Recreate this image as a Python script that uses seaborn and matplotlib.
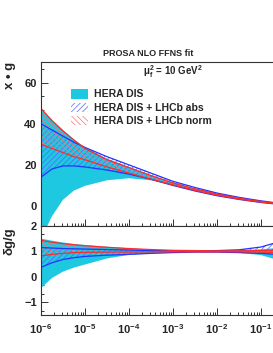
import numpy as np
import pandas as pd
import matplotlib
matplotlib.use('Agg')
import matplotlib.pyplot as plt
import seaborn as sns
from matplotlib.patches import Patch
from matplotlib.ticker import AutoMinorLocator, LogLocator, NullFormatter, FixedLocator

# ---------------- data ----------------
log_x = [-6, -5.75, -5.5, -5.25, -5, -4.5, -4, -3.5, -3, -2.5, -2, -1.5, -1, -0.5, 0]

# x*g, top panel
dis_up   = [47.5, 42.0, 37.0, 32.5, 28.5, 23.0, 19.0, 15.0, 11.5, 8.5, 6.0, 4.0, 2.4, 1.0, 0.2]
dis_lo   = [-16.0, -5.0, 3.0, 7.5, 9.8, 12.5, 13.5, 12.5, 10.0, 7.5, 5.2, 3.3, 1.8, 0.6, 0.0]
abs_up   = [40.0, 37.0, 34.0, 31.0, 28.5, 24.0, 20.0, 16.0, 12.0, 9.0, 6.3, 4.2, 2.5, 1.1, 0.3]
abs_lo   = [14.0, 18.0, 19.5, 19.5, 19.0, 17.5, 15.5, 13.0, 10.0, 7.3, 5.0, 3.2, 1.7, 0.6, 0.1]
norm_up  = [47.5, 41.5, 36.5, 32.0, 28.0, 22.5, 18.7, 14.8, 11.2, 8.3, 5.8, 3.8, 2.2, 0.9, 0.2]
norm_lo  = [30.0, 28.0, 26.0, 24.0, 22.5, 19.0, 16.0, 13.0, 10.3, 7.6, 5.3, 3.4, 1.9, 0.7, 0.1]

# dg/g, bottom panel
r_dis_up  = [1.50, 1.42, 1.35, 1.29, 1.25, 1.18, 1.12, 1.07, 1.04, 1.03, 1.03, 1.05, 1.08, 1.15, 1.25]
r_dis_lo  = [-0.45, -0.05, 0.20, 0.36, 0.48, 0.72, 0.86, 0.92, 0.95, 0.97, 0.97, 0.94, 0.85, 0.60, 0.40]
r_abs_up  = [1.15, 1.13, 1.11, 1.10, 1.09, 1.07, 1.05, 1.03, 1.02, 1.02, 1.03, 1.06, 1.17, 1.42, 1.70]
r_abs_lo  = [0.37, 0.55, 0.68, 0.75, 0.80, 0.85, 0.88, 0.92, 0.95, 0.97, 0.97, 0.95, 0.92, 0.86, 0.80]
r_norm_up = [1.43, 1.36, 1.30, 1.26, 1.22, 1.16, 1.11, 1.07, 1.04, 1.03, 1.02, 1.02, 1.03, 1.05, 1.08]
r_norm_lo = [0.82, 0.88, 0.92, 0.95, 0.96, 0.97, 0.97, 0.98, 0.98, 0.98, 0.98, 0.98, 0.97, 0.95, 0.92]

labels = ['HERA DIS', 'HERA DIS + LHCb abs', 'HERA DIS + LHCb norm']
x_ticks = [1e-6, 1e-5, 1e-4, 1e-3, 1e-2, 1e-1]
x_tick_labels = ['$10^{-6}$', '$10^{-5}$', '$10^{-4}$', '$10^{-3}$', '$10^{-2}$', '$10^{-1}$']

# ---------------- style ----------------
sns.set_style('ticks')
plt.rcParams['font.family'] = ['Liberation Sans', 'DejaVu Sans']
plt.rcParams['font.weight'] = 'bold'
plt.rcParams['mathtext.fontset'] = 'custom'
plt.rcParams['mathtext.rm'] = 'Liberation Sans:bold'
plt.rcParams['mathtext.bf'] = 'Liberation Sans:bold'
plt.rcParams['mathtext.it'] = 'Liberation Sans:italic:bold'
plt.rcParams['mathtext.default'] = 'bf'
plt.rcParams['hatch.linewidth'] = 0.5

cyan = '#1ec8e0'
blue = '#2233ff'
red = '#ff2a2a'
blue_h = '#5566ff'
red_h = '#ff7070'

x = 10.0 ** np.array(log_x)

fig = plt.figure(figsize=(2.73, 3.53), dpi=100)
ax1 = fig.add_axes([0.150, 0.360, 0.967, 0.464])
ax2 = fig.add_axes([0.150, 0.108, 0.967, 0.252])


def draw_panel(ax, d_up, d_lo, a_up, a_lo, n_up, n_lo):
    ax.set_xscale('log')
    ax.fill_between(x, d_lo, d_up, facecolor=cyan, edgecolor='none', lw=0)
    ax.fill_between(x, a_lo, a_up, facecolor='none', edgecolor=blue_h, hatch='//////', lw=0)
    ax.fill_between(x, n_lo, n_up, facecolor='none', edgecolor=red_h, hatch='\\\\\\\\\\\\', lw=0)
    for up, lo, c in [(a_up, a_lo, blue), (n_up, n_lo, red)]:
        sns.lineplot(x=x, y=up, color=c, lw=0.9, ax=ax)
        sns.lineplot(x=x, y=lo, color=c, lw=0.9, ax=ax)
    ax.set_xlim(1e-6, 1)
    ax.xaxis.set_major_locator(FixedLocator(x_ticks))
    ax.xaxis.set_minor_locator(LogLocator(base=10, subs=np.arange(2, 10), numticks=20))
    ax.xaxis.set_minor_formatter(NullFormatter())
    ax.yaxis.set_minor_locator(AutoMinorLocator(3))
    ax.tick_params(which='both', direction='in', labelsize=8, width=0.7, color='#333333', pad=3)
    ax.tick_params(which='major', length=5)
    ax.tick_params(which='minor', length=2.5)
    for s in ax.spines.values():
        s.set_linewidth(0.8)
        s.set_color('#333333')


draw_panel(ax1, dis_up, dis_lo, abs_up, abs_lo, norm_up, norm_lo)
draw_panel(ax2, r_dis_up, r_dis_lo, r_abs_up, r_abs_lo, r_norm_up, r_norm_lo)

ax1.set_ylim(-9.7, 70)
ax1.set_yticks([0, 20, 40, 60])
ax1.set_xticklabels([])
ax1.set_ylabel('')

ax2.set_ylim(-1.5, 2)
ax2.set_yticks([-1, 0, 1, 2])
ax2.set_xticklabels(x_tick_labels)
ax2.tick_params(axis='x', pad=5)
ax2.set_ylabel('')

fig.text(10 / 273, 1 - 62 / 353, 'x • g', rotation=90, ha='center', va='top',
         fontsize=9.5, fontweight='bold')
fig.text(10 / 273, 1 - 227 / 353, 'δg/g', rotation=90, ha='center', va='top',
         fontsize=9.5, fontweight='bold')
fig.text(148 / 273, 1 - 54 / 353, 'PROSA NLO FFNS fit', ha='center', va='center',
         fontsize=6.5, fontweight='bold')
fig.text(173 / 273, 1 - 72 / 353, r'$\mu_f^2$ = 10 GeV$^2$', ha='center', va='center',
         fontsize=7, fontweight='bold')

handles = [
    Patch(facecolor=cyan, edgecolor='none'),
    Patch(facecolor='none', edgecolor=blue_h, hatch='//////', lw=0),
    Patch(facecolor='none', edgecolor=red_h, hatch='\\\\\\\\\\\\', lw=0),
]
fig.legend(handles, labels, loc='upper left', bbox_to_anchor=(66 / 273, 1 - 84 / 353),
           frameon=False, fontsize=7.5, handlelength=1.6, handleheight=1.0,
           handletextpad=0.6, labelspacing=0.3, borderpad=0)

fig.savefig('out.png', dpi=100)
